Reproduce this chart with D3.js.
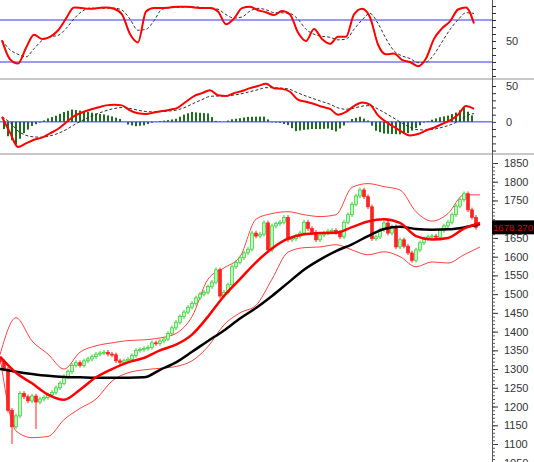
<!DOCTYPE html>
<html><head><meta charset="utf-8">
<script src="https://cdn.jsdelivr.net/npm/d3@7"></script>
<style>body{margin:0;background:#fff}svg{display:block}</style></head>
<body><svg id="c" width="534" height="462"></svg>
<script>
// closes, one per bar (bar step 4px)
const closes=[1320,1300,1190,1146,1175,1235,1226,1215,1228,1212,1220,1224,1231,1238,1250,1262,1280,1293,1310,1317,
1310,1322,1327,1333,1340,1343,1345,1340,1338,1322,1318,1322,1326,1336,1350,1352,1355,1358,1370,1368,
1375,1380,1395,1410,1425,1440,1452,1465,1475,1490,1500,1505,1520,1532,1565,1495,1505,1525,1573,1585,
1597,1610,1620,1663,1655,1660,1690,1618,1682,1688,1692,1705,1645,1648,1655,1663,1692,1675,1665,1645,
1658,1663,1668,1670,1665,1653,1692,1712,1740,1762,1778,1760,1733,1648,1653,1672,1690,1663,1680,1626,
1645,1628,1610,1590,1618,1637,1648,1653,1655,1652,1670,1682,1692,1712,1735,1752,1768,1725,1705,1678];
const longWickLows={3:1100,9:1140};
// overlays, one value per 4 bars (16px)
const maRed=[1333,1290,1262,1232,1218,1245,1278,1300,1318,1330,1350,1365,1392,1440,1495,1540,1585,1622,1648,1660,1663,1664,1679,1694,1700,1690,1655,1646,1650,1675,1690];
const maBlack=[1300,1293,1287,1282,1279,1278,1277,1277,1277,1278,1298,1318,1346,1375,1403,1435,1463,1495,1530,1565,1592,1615,1633,1655,1674,1680,1674,1672,1673,1678,1687];
const bbUp=[1338,1437,1375,1340,1300,1345,1362,1370,1376,1378,1383,1395,1440,1540,1570,1600,1700,1715,1720,1712,1707,1712,1785,1795,1787,1778,1720,1695,1715,1765,1765];
const bbLo=[1333,1135,1117,1120,1165,1195,1220,1268,1290,1298,1302,1307,1322,1360,1418,1450,1470,1540,1612,1624,1626,1632,1618,1605,1613,1600,1573,1586,1583,1605,1626];
// oscillators, one value per 2 bars (8px)
const stochK=[51,24,18,40,59,53,56,65,82,98,97,96,97,98,96,88,60,48,92,97,97,98,99,99,98,97,97,92,74,82,
97,99,94,91,87,93,88,62,50,67,53,46,56,56,88,96,84,45,31,32,23,20,14,25,53,68,78,95,98,75];
const macd=[7,-15,-35,-30,-25,-22,-16,-10,-1,8,13,17,20,23,24,23,16,12,11,13,15,17,20,28,36,40,44,37,36,40,
43,47,50,53,47,46,42,31,28,25,21,18,10,14,22,27,24,9,0,-7,-14,-19,-17,-12,-8,-3,2,10,22,18];
const priceTicks=d3.range(1050,1851,50).filter(v=>v!==1700);
const lastLabel="1678.270";

const svg=d3.select("#c");
const R=492;
const x=d3.scaleLinear().domain([0,119]).range([0,476]);
const xo=d3.scaleLinear().domain([0,30]).range([0,480]);
const xs=d3.scaleLinear().domain([0,59]).range([0,472]);
const yS=d3.scaleLinear().domain([0,100]).range([76,6]);
const yM=d3.scaleLinear().domain([-42,50]).range([152,86]);
const yP=d3.scaleLinear().domain([1100,1850]).range([444,163]);
const font="Liberation Sans, Arial";

[[78,80],[153,155]].forEach(([a,b])=>{
  svg.append("rect").attr("x",0).attr("y",a).attr("width",534).attr("height",b-a).attr("fill","#c8c8c8");
});
svg.append("line").attr("x1",R+.5).attr("x2",R+.5).attr("y1",0).attr("y2",462).attr("stroke","#555");
const styleAx=(g,tx)=>{g.select(".domain").remove();g.selectAll("text").attr("x",tx).attr("font-size",11).attr("fill","#333").attr("font-family",font);g.selectAll("line").attr("stroke","#333");};

// ---- stoch panel
const gS=svg.append("g");
[80,20].forEach(v=>gS.append("line").attr("x1",0).attr("x2",R).attr("y1",yS(v)).attr("y2",yS(v)).attr("stroke","#3333ff"));
const stochD=stochK.map((v,i)=>d3.mean(stochK.slice(Math.max(0,i-2),i+1)));
const lS=d3.line().x((d,i)=>xs(i)+2).curve(d3.curveMonotoneX);
gS.append("path").attr("d",lS.y(d=>yS(d))(stochD)).attr("fill","none").attr("stroke","#333").attr("stroke-dasharray","3,2");
gS.append("path").attr("d",lS.y(d=>yS(d))(stochK)).attr("fill","none").attr("stroke","#f00").attr("stroke-width",2);
svg.append("g").attr("transform",`translate(${R},0)`).call(d3.axisRight(yS).tickValues(d3.range(0,101,10)).tickSize(4).tickFormat(d=>d===50?"50":"")).call(g=>styleAx(g,14));

// ---- macd panel
const gM=svg.append("g");
const sig=[];macd.forEach((v,i)=>sig.push(i?sig[i-1]+(v-sig[i-1])*0.35:v));
const interp=(arr,i)=>{const t=i/2,a=Math.floor(t),b=Math.min(arr.length-1,a+1),f=t-a;return arr[a]*(1-f)+arr[b]*f;};
const hist=d3.range(0,119).map(i=>(interp(macd,i)-interp(sig,i))*1.4);
gM.selectAll("rect.h").data(hist).join("rect").attr("x",(d,i)=>x(i)-1).attr("width",2)
 .attr("y",d=>Math.min(yM(0),yM(d))).attr("height",d=>Math.abs(yM(0)-yM(d))).attr("fill","#1e6e1e");
gM.append("line").attr("x1",0).attr("x2",R).attr("y1",yM(0)).attr("y2",yM(0)).attr("stroke","#3333ff");
gM.append("path").attr("d",lS.y(d=>yM(d))(sig)).attr("fill","none").attr("stroke","#333").attr("stroke-dasharray","3,2");
gM.append("path").attr("d",lS.y(d=>yM(d))(macd)).attr("fill","none").attr("stroke","#f00").attr("stroke-width",2);
svg.append("g").attr("transform",`translate(${R},0)`).call(d3.axisRight(yM).tickValues(d3.range(-40,51,10)).tickSize(4).tickFormat(d=>d===50||d===0?d:"")).call(g=>styleAx(g,14));

// ---- price panel
const gP=svg.append("g");
const lo=d3.line().x((d,i)=>xo(i)).curve(d3.curveMonotoneX);
gP.append("path").attr("d",lo.y(d=>yP(d))(bbUp)).attr("fill","none").attr("stroke","#f44");
gP.append("path").attr("d",lo.y(d=>yP(d))(bbLo)).attr("fill","none").attr("stroke","#f44");
const bars=closes.map((c,i)=>{const o=i?closes[i-1]:c+5;return{o,c,hi:Math.max(o,c)+6,lo:longWickLows[i]??Math.min(o,c)-6};});
const cg=gP.selectAll("g.k").data(bars).join("g");
cg.append("line").attr("x1",(d,i)=>x(i)).attr("x2",(d,i)=>x(i)).attr("y1",d=>yP(d.hi)).attr("y2",d=>yP(d.lo))
 .attr("stroke",d=>d.c>=d.o?"#3c3":"#f22");
cg.append("rect").attr("x",(d,i)=>x(i)-1.5).attr("width",3).attr("y",d=>yP(Math.max(d.o,d.c))).attr("height",d=>Math.max(1,Math.abs(yP(d.o)-yP(d.c))))
 .attr("fill",d=>d.c>=d.o?"#bfb":"#f22").attr("stroke",d=>d.c>=d.o?"#3c3":"#f22").attr("stroke-width",.7);
gP.append("path").attr("d",lo.y(d=>yP(d))(maBlack)).attr("fill","none").attr("stroke","#000").attr("stroke-width",2.5);
gP.append("path").attr("d",lo.y(d=>yP(d))(maRed)).attr("fill","none").attr("stroke","#f00").attr("stroke-width",2.5);
svg.append("g").attr("transform",`translate(${R},0)`).call(d3.axisRight(yP).tickValues(priceTicks).tickSize(6).tickFormat(d3.format("d"))).call(g=>styleAx(g,12));
svg.append("g").attr("transform",`translate(${R},0)`).call(d3.axisRight(yP).tickValues(d3.range(1050,1851,10)).tickSize(3).tickFormat("")).call(g=>{g.select(".domain").remove();g.selectAll("line").attr("stroke","#555")});
const ly=yP(+lastLabel);
svg.append("rect").attr("x",R).attr("y",ly-7).attr("width",42).attr("height",14).attr("fill","#000");
svg.append("text").attr("x",R+1).attr("y",ly+4).attr("font-size",9.5).attr("textLength",40).attr("lengthAdjust","spacingAndGlyphs").attr("fill","#d00").attr("font-family",font).text(lastLabel);
</script></body></html>
